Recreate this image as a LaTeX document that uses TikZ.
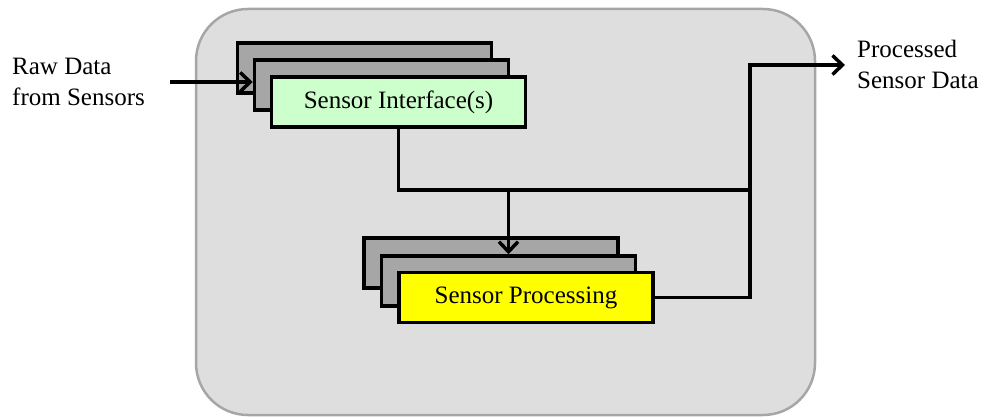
\documentclass[tikz,border=0pt]{standalone}
\usepackage{fontspec}
\setmainfont{Liberation Serif}
\usetikzlibrary{arrows.meta}
\definecolor{panelfill}{HTML}{DEDEDE}
\definecolor{paneledge}{HTML}{A6A6A6}
\definecolor{backfill}{HTML}{A6A6A6}
\definecolor{greenfill}{HTML}{CCFFCC}
\definecolor{yellowfill}{HTML}{FFFF00}
\begin{document}
\begin{tikzpicture}[x=1pt,y=-1pt,
  txt/.style={font=\fontsize{25}{30.5}\selectfont, inner sep=0pt, align=left},
  card/.style={draw=black, line width=3.5pt, minimum width=254pt, minimum height=50pt, inner sep=0pt, font=\fontsize{25}{30}\selectfont},
  backcard/.style={card, fill=backfill},
  conn/.style={draw=black, line width=3.5pt},
  arr/.style={conn, -{Straight Barb[length=10pt,width=19pt,line width=3.5pt]}}
]
\useasboundingbox (0,0) rectangle (984,419);
% panel
\draw[fill=panelfill, draw=paneledge, line width=2.5pt, rounded corners=52pt] (196,9) rectangle (815,415);
% sensor interface stack
\node[backcard] (si1) at (364.5,68) {};
\node[backcard] (si2) at (381.5,85) {};
\node[card, fill=greenfill] (si) at (398.5,102) {Sensor Interface(s)};
% sensor processing stack
\node[backcard] (sp1) at (491,263) {};
\node[backcard] (sp2) at (508.5,281) {};
\node[card, fill=yellowfill] (sp) at (526,297.5) {Sensor Processing};
% labels
\node[txt, anchor=north west] (raw) at (12,58) {Raw Data\\from Sensors};
\node[txt, anchor=north west] (out) at (857,40) {Processed\\Sensor Data};
% coordinates
\coordinate (intail) at (170,82);
\coordinate (jR) at (750,190);
\coordinate (top) at (750,65);
\coordinate (outtip) at (845,65);
% connectors
\draw[arr] (intail) -- (si2.west |- intail);
\draw[conn] (si.south) -- (si.south |- jR) -- (jR);
\draw[arr] (sp2.north |- jR) -- (sp2.north);
\draw[arr] (sp.east) -| (top) -- (outtip);
\end{tikzpicture}
\end{document}
